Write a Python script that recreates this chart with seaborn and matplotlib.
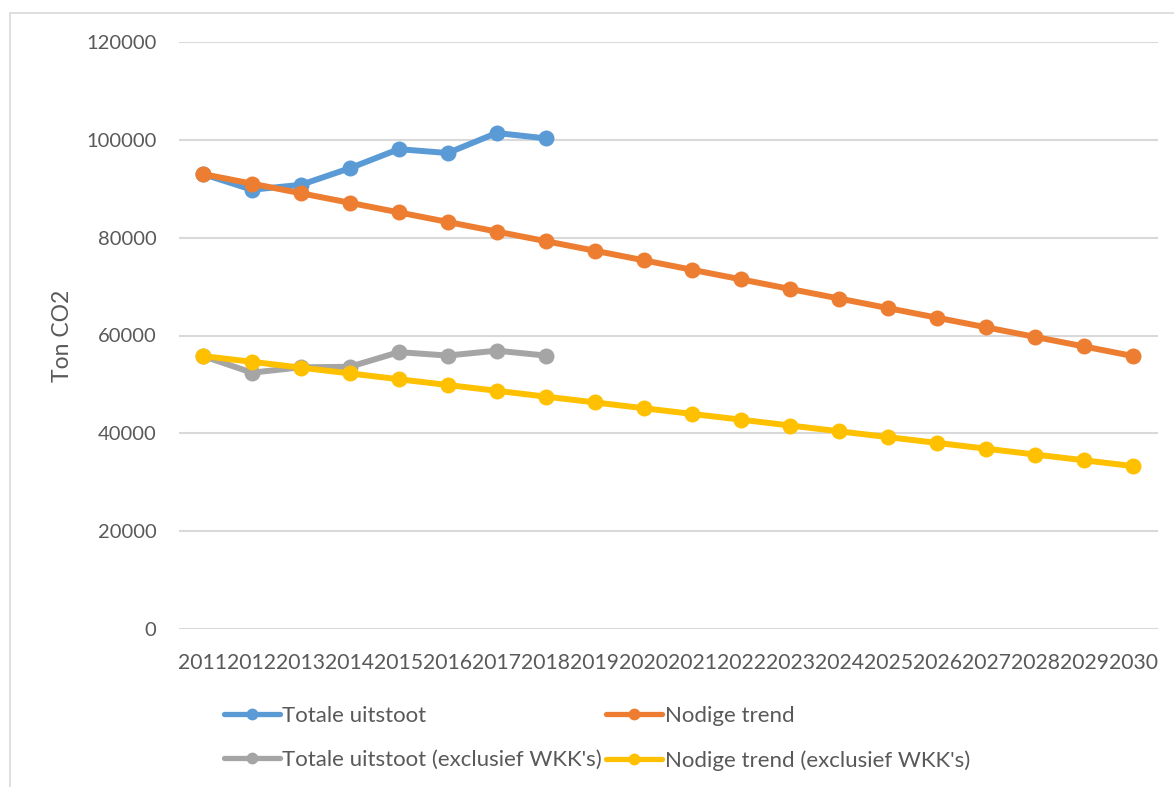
# CO2-uitstoot: werkelijke uitstoot vs nodige trend tot 2030
import matplotlib.pyplot as plt
import matplotlib.patches as mpatches
from matplotlib.lines import Line2D
import seaborn as sns
import pandas as pd

years = list(range(2011, 2031))
years_obs = list(range(2011, 2019))

totale_uitstoot = [93000, 89800, 90800, 94200, 98100, 97300, 101400, 100300]
nodige_trend = [93000, 91040, 89080, 87130, 85170, 83210, 81250, 79290, 77340, 75380,
                73420, 71460, 69500, 67550, 65590, 63630, 61670, 59710, 57760, 55800]
totale_excl = [55800, 52400, 53500, 53600, 56600, 55900, 56900, 55900]
nodige_excl = [55800, 54620, 53430, 52250, 51060, 49880, 48700, 47510, 46330, 45140,
               43960, 42780, 41590, 40410, 39220, 38040, 36860, 35670, 34490, 33300]

labels = ["Totale uitstoot", "Nodige trend",
          "Totale uitstoot (exclusief WKK's)", "Nodige trend (exclusief WKK's)"]
colors = ["#5B9BD5", "#ED7D31", "#A5A5A5", "#FFC000"]

sns.set_theme(style="white")
plt.rcParams['font.family'] = ['Lato', 'DejaVu Sans']
text_col = "#595959"

fig = plt.figure(figsize=(11.74, 7.87), dpi=100)
ax = fig.add_axes([178.5 / 1174, 1 - 629 / 787, (1157.5 - 178.5) / 1174, (629 - 42) / 787])

series = [(years_obs, totale_uitstoot), (years, nodige_trend),
          (years_obs, totale_excl), (years, nodige_excl)]
for (xs, ys), lab, col in zip(series, labels, colors):
    df = pd.DataFrame({"jaar": xs, "ton": ys})
    sns.lineplot(data=df, x="jaar", y="ton", ax=ax, color=col, linewidth=4.3,
                 marker="o", markersize=11.5, markeredgewidth=0, legend=False,
                 solid_capstyle="round")

ax.set_xlim(2010.5, 2030.5)
ax.set_ylim(0, 120000)
ax.set_xticks(years)
ax.set_xticklabels([str(y) for y in years])
ax.set_yticks(range(0, 120001, 20000))
ax.yaxis.grid(True, color="#D9D9D9", linewidth=1.5)
ax.set_axisbelow(True)
for s in ax.spines.values():
    s.set_visible(False)
ax.tick_params(axis="y", length=0, pad=16, labelsize=14.5, labelcolor=text_col)
ax.tick_params(axis="x", length=0, pad=17, labelsize=15.2, labelcolor=text_col)
ax.set_xlabel("")
ax.set_ylabel("Ton CO2", fontsize=16.5, color=text_col, labelpad=9)

# legenda onder de grafiek, twee kolommen (kleinere markers dan in de grafiek)
handles = [Line2D([], [], color=c, linewidth=3.8, marker="o", markersize=8.5,
                  markeredgewidth=0, solid_capstyle="round") for c in colors]
order = [0, 2, 1, 3]
fig.legend([handles[i] for i in order], [labels[i] for i in order], ncol=2,
           loc="upper left", bbox_to_anchor=(224 / 1174, 1 - 706 / 787), frameon=False,
           fontsize=16, labelcolor=text_col, handlelength=2.5, handletextpad=0.12,
           columnspacing=0.2, labelspacing=1.08, borderaxespad=0, borderpad=0)

# kader van het grafiekgebied
fig.patches.append(mpatches.Rectangle((10 / 1174, -0.1), 1.2, 1 - 13 / 787 + 0.1,
                                      transform=fig.transFigure, fill=False,
                                      edgecolor="#D9D9D9", linewidth=1.2))

fig.savefig("out.png", dpi=100)
